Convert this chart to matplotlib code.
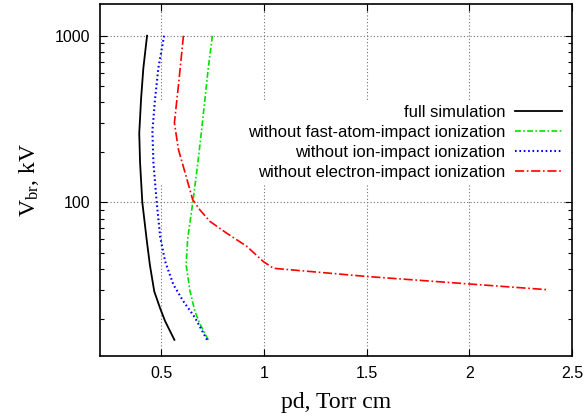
import matplotlib
matplotlib.use("Agg")
import matplotlib.pyplot as plt
from matplotlib.patches import Rectangle
from matplotlib.ticker import FixedLocator, NullFormatter

# ---- data ----
full_x = [0.432, 0.414, 0.403, 0.394, 0.398, 0.409, 0.430, 0.446, 0.467, 0.495, 0.520, 0.565]
full_y = [1000, 640, 420, 260, 173, 100, 60, 42, 29.3, 23.3, 19.4, 15.0]

noatom_x = [0.750, 0.730, 0.714, 0.697, 0.679, 0.656, 0.630, 0.622, 0.641, 0.665, 0.690, 0.730]
noatom_y = [1000, 640, 420, 268, 172, 103, 61, 42.4, 29.4, 22.2, 18.6, 15.0]

noion_x = [0.515, 0.487, 0.471, 0.458, 0.463, 0.479, 0.496, 0.520, 0.560, 0.608, 0.665, 0.724]
noion_y = [1000, 640, 420, 268, 173, 100, 62, 44.3, 32.2, 25.6, 20.4, 15.0]

noel_x = [0.609, 0.585, 0.565, 0.585, 0.613, 0.654, 0.690, 0.738, 0.819, 0.917, 0.998, 1.047, 1.500, 2.377]
noel_y = [1000, 507, 300, 207, 157, 104, 90, 77, 65.5, 54.6, 44.2, 40.3, 36.0, 30.0]

labels = ["full simulation",
          "without fast-atom-impact ionization",
          "without ion-impact ionization",
          "without electron-impact ionization"]

xticks = [0.5, 1.0, 1.5, 2.0, 2.5]
xticklabels = ["0.5", "1", "1.5", "2", "2.5"]
yticks = [100, 1000]
yticklabels = ["100", "1000"]
yminor = [20, 30, 40, 50, 60, 70, 80, 90, 200, 300, 400, 500, 600, 700, 800, 900]

# ---- style ----
plt.rcParams['font.family'] = ['Liberation Sans', 'DejaVu Sans']
plt.rcParams['mathtext.default'] = 'regular'

fig = plt.figure(figsize=(5.86, 4.18), dpi=100)
ax = fig.add_axes([100/586, 1 - 356/418, 472/586, 352/418])

ax.set_yscale('log')
ax.set_xlim(0.203, 2.5)
ax.set_ylim(12.0, 1550)

ax.plot(full_x, full_y, color='black', lw=1.3, label=labels[0], zorder=3)
ax.plot(noatom_x, noatom_y, color='#00e000', lw=1.2, dashes=(3.5, 1.4, 1, 1.4),
        label=labels[1], zorder=3)
ax.plot(noion_x, noion_y, color='#0000ff', lw=1.5, dashes=(0.8, 1.3),
        label=labels[2], zorder=3)
ax.plot(noel_x, noel_y, color='#ff0000', lw=1.2, dashes=(5.5, 1.6, 1, 1.6),
        label=labels[3], zorder=3)

ax.set_xticks(xticks)
ax.set_xticklabels(xticklabels)
ax.set_yticks(yticks)
ax.set_yticklabels(yticklabels)
ax.yaxis.set_minor_locator(FixedLocator(yminor))
ax.yaxis.set_minor_formatter(NullFormatter())

ax.tick_params(which='both', direction='in', top=True, right=True, labelsize=11.5,
               width=0.8, pad=7)
ax.tick_params(which='major', length=5)
ax.tick_params(which='minor', length=3)
for s in ax.spines.values():
    s.set_linewidth(1.2)

ax.set_axisbelow(True)
ax.grid(True, which='major', color='#707070', lw=0.8, dashes=(1, 2))

# white key box that hides grid lines (gnuplot-style)
ax.add_patch(Rectangle((0.117, 0.489), 0.883, 0.235, transform=ax.transAxes,
                       facecolor='white', edgecolor='none', zorder=1))

leg = ax.legend(loc='center right', bbox_to_anchor=(0.979, 0.6065), frameon=False,
                markerfirst=False, fontsize=12, borderpad=0, borderaxespad=0,
                handlelength=2.8, handletextpad=0.6, labelspacing=0.3)
leg.set_zorder(4)

ax.set_xlabel('pd, Torr cm', family='Liberation Serif', fontsize=17, labelpad=8)
ax.set_ylabel(r'V$_{br}$, kV', family='Liberation Serif', fontsize=17, labelpad=10)

fig.savefig('out.png', dpi=100)
